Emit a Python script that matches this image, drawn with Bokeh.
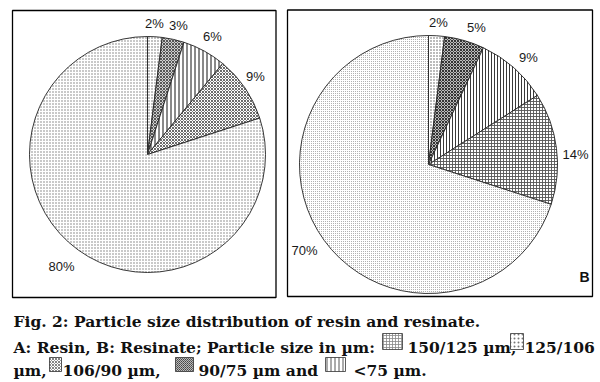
import math
from bokeh.plotting import figure
from bokeh.models import Range1d
from bokeh.embed import file_html
from bokeh.resources import INLINE
from bokeh.core.properties import value

# ---------------- data ----------------
a_values = [2, 3, 6, 9, 80]
a_labels = ["2%", "3%", "6%", "9%", "80%"]
b_values = [2, 5, 9, 14, 70]
b_labels = ["2%", "5%", "9%", "14%", "70%"]
panel_b_tag = "B"
caption_line1 = "Fig. 2: Particle size distribution of resin and resinate."
caption_line2 = ["A: Resin, B: Resinate; Particle size in µm:", "150/125 µm,", "125/106"]
caption_line3 = ["µm,", "106/90 µm,", "90/75 µm and", "<75 µm."]

# ---------------- styles ----------------
# (pattern, scale, weight, hatch colour, background)
a_styles = [
    (".", 3, 1.0, "#666666", "white"),
    ("x", 3, 1.0, "#555555", "#d0d0d0"),
    ("|", 4, 1.0, "#111111", "white"),
    ("x", 3, 0.8, "#444444", "white"),
    (".", 3, 1.0, "#777777", "white"),
]
b_styles = [
    (".", 3, 1.0, "#555555", "white"),
    ("x", 3, 1.0, "#333333", "#bbbbbb"),
    ("|", 3, 0.9, "#222222", "white"),
    ("+", 3, 0.9, "#555555", "white"),
    (".", 2, 0.8, "#999999", "white"),
]
icon_styles = [
    ("+", 3, 0.8, "#888888", "white"),
    (".", 4, 1.0, "#777777", "white"),
    ("x", 3, 0.8, "#666666", "white"),
    ("x", 2, 0.9, "#444444", "#bbbbbb"),
    ("|", 4, 1.0, "#555555", "white"),
]

W, H = 600, 382


def Y(y):
    return H - y


p = figure(width=W, height=H, x_range=Range1d(0, W), y_range=Range1d(0, H),
           output_backend="svg", toolbar_location=None, min_border=0)
p.axis.visible = False
p.grid.visible = False
p.outline_line_color = None
p.background_fill_color = "white"
p.border_fill_color = "white"

# panel frames
p.quad(left=[12, 287], right=[275.5, 592], top=[Y(10), Y(9.5)], bottom=[Y(297), Y(296)],
       fill_color=None, line_color="black", line_width=1.3)


def draw_pie(cx, cy, r, values, styles):
    total = float(sum(values))
    cum = 0.0
    for v, st in zip(values, styles):
        s = cum / total
        cum += v
        e = cum / total
        pat, sc, wt, hc, bg = st
        p.wedge(x=[cx], y=[Y(cy)], radius=r,
                start_angle=math.pi / 2 - 2 * math.pi * e,
                end_angle=math.pi / 2 - 2 * math.pi * s,
                fill_color=bg, line_color="#222222", line_width=0.9,
                hatch_pattern=pat, hatch_scale=sc, hatch_weight=wt, hatch_color=hc)


draw_pie(147, 154, 118, a_values, a_styles)
draw_pie(428, 164, 129, b_values, b_styles)

lab_font = value("Liberation Sans")
a_pos = [(154, 23), (178, 25), (212, 36), (255, 76), (61, 266)]
b_pos = [(438, 22), (476, 27), (528, 57), (575, 154), (304, 250)]
p.text(x=[q[0] for q in a_pos], y=[Y(q[1]) for q in a_pos], text=a_labels,
       text_font=lab_font, text_font_size="13px", text_color="#1a1a1a",
       text_align="center", text_baseline="middle")
p.text(x=[q[0] for q in b_pos], y=[Y(q[1]) for q in b_pos], text=b_labels,
       text_font=lab_font, text_font_size="13px", text_color="#1a1a1a",
       text_align="center", text_baseline="middle")
p.text(x=[584], y=[Y(276)], text=[panel_b_tag], text_font=lab_font, text_font_size="14px",
       text_font_style="bold", text_color="#111111", text_align="center", text_baseline="middle")

# caption
cap_font = value("DejaVu Serif")
cap_kw = dict(text_font=cap_font, text_font_size="15.5px", text_font_style="bold",
              text_color="#111111", text_align="left", text_baseline="alphabetic")
p.text(x=[13], y=[Y(321)], text=[caption_line1], **cap_kw)
p.text(x=[13, 407, 524], y=[Y(347)] * 3, text=caption_line2, **cap_kw)
p.text(x=[13, 62, 198, 353], y=[Y(370)] * 4, text=caption_line3, **cap_kw)

# legend icons (left, right, top, bottom) in image px
icons = [(382, 402, 333, 349), (510, 523, 333, 349), (49, 61, 357, 371),
         (175, 193, 357, 371), (325, 345, 357, 371)]
for (l, r_, t, b), st in zip(icons, icon_styles):
    pat, sc, wt, hc, bg = st
    p.quad(left=[l], right=[r_], top=[Y(t)], bottom=[Y(b)], fill_color=bg,
           line_color="#333333", line_width=0.8,
           hatch_pattern=pat, hatch_scale=sc, hatch_weight=wt, hatch_color=hc)

open("out.html", "w").write(file_html(p, INLINE))
